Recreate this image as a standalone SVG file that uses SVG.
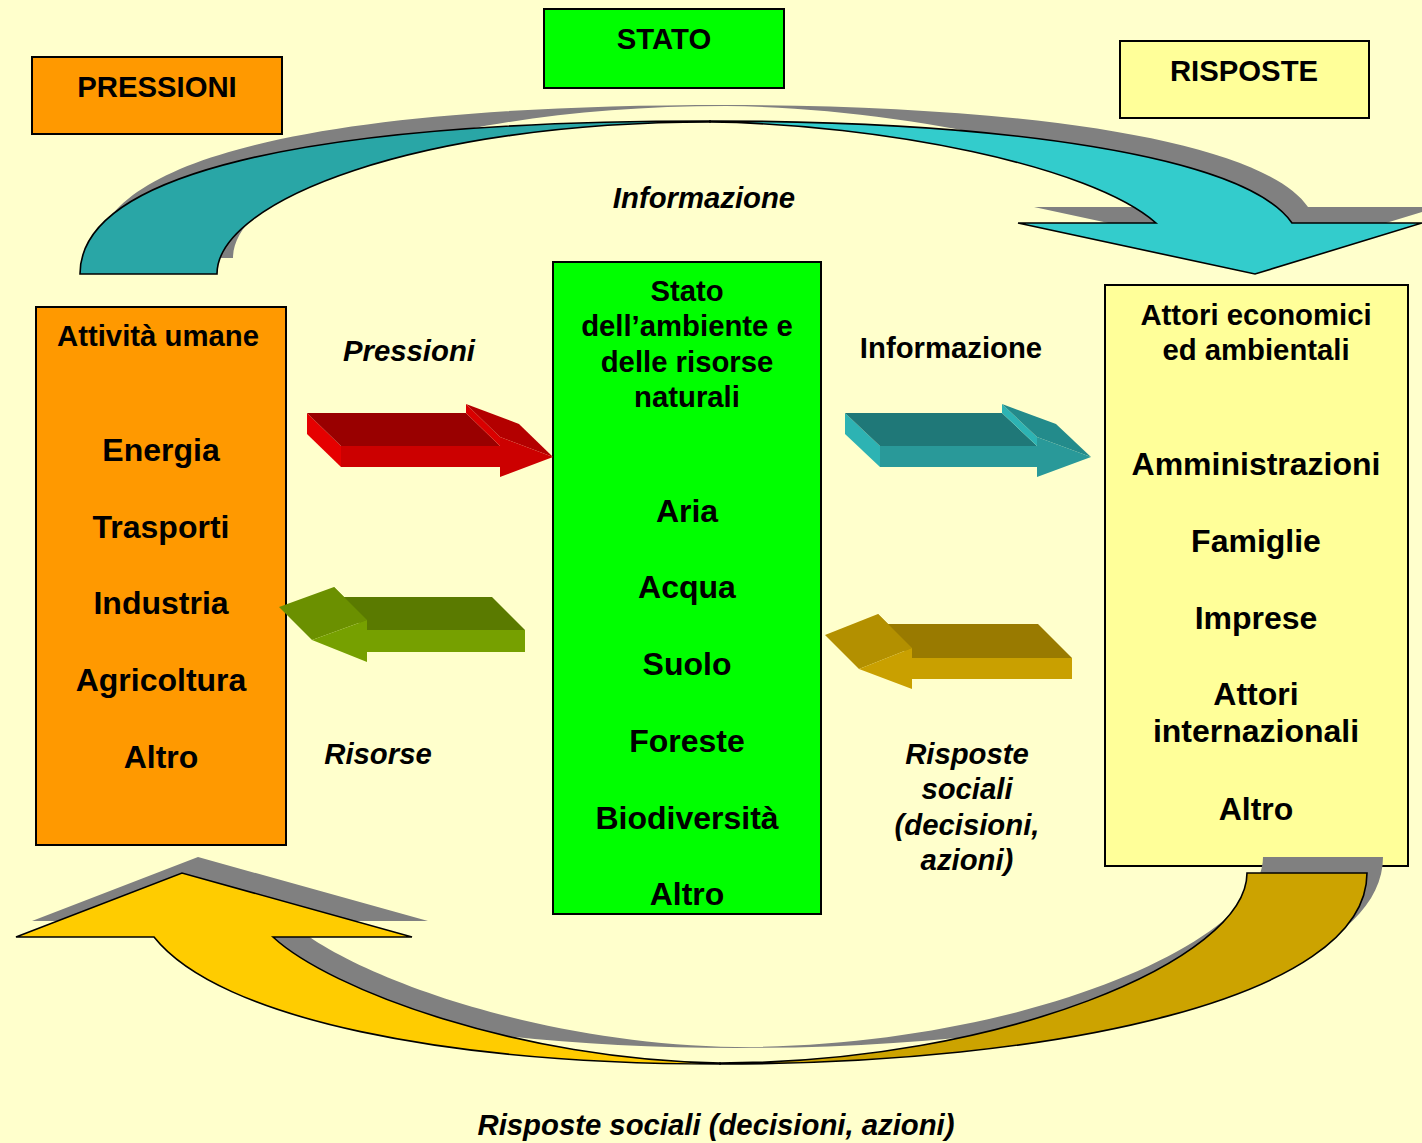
<svg xmlns="http://www.w3.org/2000/svg" xmlns:xlink="http://www.w3.org/1999/xlink" width="1422" height="1143" viewBox="0 0 1422 1143">
<style>
.box{stroke:#000;stroke-width:2}
.t{font-family:"Liberation Sans",Arial,Helvetica,sans-serif;font-weight:bold;fill:#000;text-anchor:middle}
.h{font-size:29.3px}
.l{font-size:29.3px}
.i{font-style:italic}
.big{font-size:32px}
.shadow{fill:#808080;stroke:none}
.edge{stroke:#000;stroke-width:1.6;stroke-linejoin:miter}
</style>
<defs>
<path id="topL" d="M80,274 C80,175 300,121 710,121 L710,122 C420,122 217,200 217,274 Z"/>
<path id="topR" d="M710,121 C1000,121 1245,155 1292,223 L1422,223 L1255,274 L1018,223 L1156,223 C1090,165 880,124 710,122 Z"/>
<path id="botR" d="M720,1064 C1050,1064 1367,1000 1367,873 L1247,873 C1247,960 1000,1063 720,1063 Z"/>
<path id="botL" d="M720,1064 C450,1064 220,1020 154,937 L16,937 L182,873 L412,937 L273,937 C330,990 520,1060 720,1063 Z"/>
</defs>
<rect x="0" y="0" width="1422" height="1143" fill="#FFFFCC"/>

<g id="pressioni-title">
<rect class="box" x="32" y="57" width="250" height="77" fill="#FF9900"/>
<text class="t h" x="157" y="97">PRESSIONI</text>
</g>
<g id="stato-title">
<rect class="box" x="544" y="9" width="240" height="79" fill="#00FF00"/>
<text class="t h" x="664" y="49">STATO</text>
</g>
<g id="risposte-title">
<rect class="box" x="1120" y="41" width="249" height="77" fill="#FFFF99"/>
<text class="t h" x="1244" y="81">RISPOSTE</text>
</g>

<g id="attivita-umane">
<rect class="box" x="36" y="307" width="250" height="538" fill="#FF9900"/>
<text class="t l" x="158" y="346">Attività umane</text>
<text class="t big" x="161" y="461">Energia</text>
<text class="t big" x="161" y="538">Trasporti</text>
<text class="t big" x="161" y="614">Industria</text>
<text class="t big" x="161" y="691">Agricoltura</text>
<text class="t big" x="161" y="768">Altro</text>
</g>

<g id="stato-ambiente">
<rect class="box" x="553" y="262" width="268" height="652" fill="#00FF00"/>
<text class="t l" x="687" y="301">Stato</text>
<text class="t l" x="687" y="336">dell’ambiente e</text>
<text class="t l" x="687" y="372">delle risorse</text>
<text class="t l" x="687" y="407">naturali</text>
<text class="t big" x="687" y="522">Aria</text>
<text class="t big" x="687" y="598">Acqua</text>
<text class="t big" x="687" y="675">Suolo</text>
<text class="t big" x="687" y="752">Foreste</text>
<text class="t big" x="687" y="829">Biodiversità</text>
<text class="t big" x="687" y="905">Altro</text>
</g>

<g id="attori">
<rect class="box" x="1105" y="285" width="303" height="581" fill="#FFFF99"/>
<text class="t l" x="1256" y="325">Attori economici</text>
<text class="t l" x="1256" y="360">ed ambientali</text>
<text class="t big" x="1256" y="475">Amministrazioni</text>
<text class="t big" x="1256" y="552">Famiglie</text>
<text class="t big" x="1256" y="629">Imprese</text>
<text class="t big" x="1256" y="705">Attori</text>
<text class="t big" x="1256" y="742">internazionali</text>
<text class="t big" x="1256" y="820">Altro</text>
</g>

<g id="connectors">
<g id="curve-informazione">
<use xlink:href="#topL" class="shadow" transform="translate(16,-16)"/>
<use xlink:href="#topR" class="shadow" transform="translate(16,-16)"/>
<use xlink:href="#topL" class="edge" fill="#29A6A6"/>
<use xlink:href="#topR" class="edge" fill="#33CCCC"/>
</g>
<g id="curve-risposte">
<use xlink:href="#botR" class="shadow" transform="translate(16,-16)"/>
<use xlink:href="#botL" class="shadow" transform="translate(16,-16)"/>
<use xlink:href="#botR" class="edge" fill="#CCA300"/>
<use xlink:href="#botL" class="edge" fill="#FFCC00"/>
</g>
<g id="arrow-pressioni">
<polygon points="341,446 307,413 307,434 341,467" fill="#E50000"/>
<polygon points="307,413 466,413 500,446 341,446" fill="#990000"/>
<polygon points="466,413 466,404 500,437 500,446" fill="#D90000"/>
<polygon points="466,404 519,424 553,457 500,437" fill="#B30000"/>
<polygon points="341,446 500,446 500,437 553,457 500,477 500,467 341,467" fill="#CC0000"/>
</g>
<g id="arrow-informazione">
<polygon points="880,446 845,413 845,434 880,467" fill="#2DB3B3"/>
<polygon points="845,413 1002,413 1037,446 880,446" fill="#1F7878"/>
<polygon points="1002,413 1002,404 1037,437 1037,446" fill="#2DB3B3"/>
<polygon points="1002,404 1056,424 1091,457 1037,437" fill="#238B8B"/>
<polygon points="880,446 1037,446 1037,437 1091,457 1037,477 1037,467 880,467" fill="#299999"/>
</g>
<g id="arrow-risorse">
<polygon points="334,587 367,620 367,630 334,597" fill="#5A7A00"/>
<polygon points="334,597 492,597 525,630 367,630" fill="#5A7A00"/>
<polygon points="279,607 334,587 367,620 312,640" fill="#6B9000"/>
<polygon points="312,640 367,620 367,630 525,630 525,652 367,652 367,662" fill="#76A000"/>
</g>
<g id="arrow-risposte">
<polygon points="878,614 912,648 912,658 878,624" fill="#997A00"/>
<polygon points="878,624 1038,624 1072,658 912,658" fill="#997A00"/>
<polygon points="825,635 878,614 912,648 859,669" fill="#B39000"/>
<polygon points="859,669 912,648 912,658 1072,658 1072,679 912,679 912,689" fill="#C9A000"/>
</g>
<text class="t l i" x="704" y="208">Informazione</text>
<text class="t l i" x="409" y="361">Pressioni</text>
<text class="t l" x="951" y="358">Informazione</text>
<text class="t l i" x="378" y="764">Risorse</text>
<text class="t l i" x="967" y="764">Risposte</text>
<text class="t l i" x="967" y="799">sociali</text>
<text class="t l i" x="967" y="835">(decisioni,</text>
<text class="t l i" x="967" y="870">azioni)</text>
<text class="t l i" x="716" y="1135">Risposte sociali (decisioni, azioni)</text>
</g>
</svg>
